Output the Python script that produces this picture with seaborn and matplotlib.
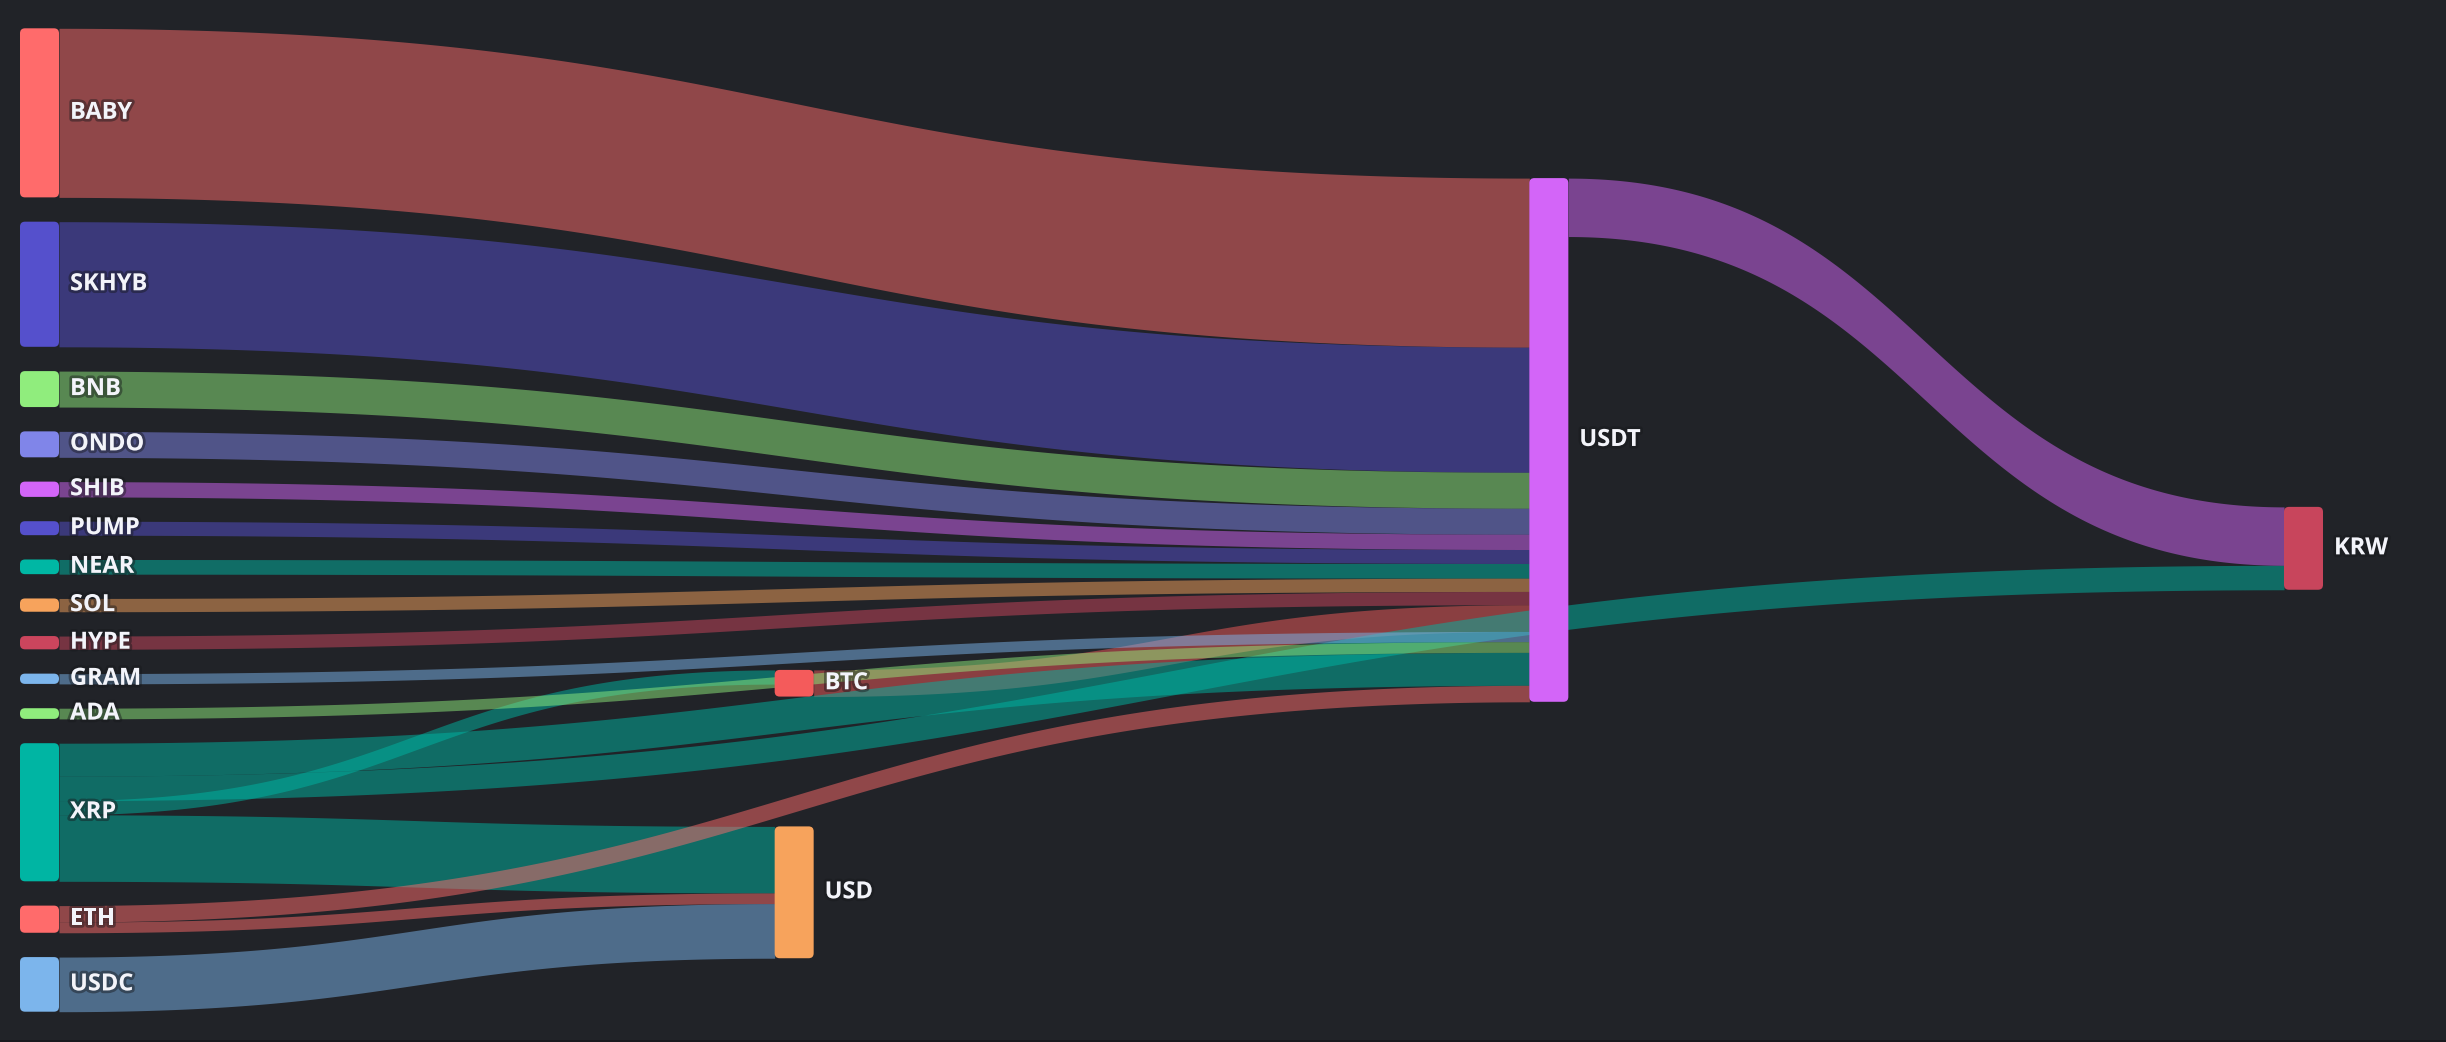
import numpy as np
import matplotlib
matplotlib.use("Agg")
import matplotlib.pyplot as plt
import matplotlib.patheffects as pe
from matplotlib.patches import FancyBboxPatch
import seaborn as sns

# ---------------- data ----------------
node_names = ["BABY", "SKHYB", "BNB", "ONDO", "SHIB", "PUMP", "NEAR", "SOL", "HYPE",
              "GRAM", "ADA", "XRP", "ETH", "USDC", "BTC", "USD", "USDT", "KRW"]
node_colors = ["#ff6b6b", "#5550cc", "#90ed7d", "#8085e9", "#d365f8", "#5550cc",
               "#00b7a4", "#f7a35c", "#cb455d", "#7cb5ec", "#90ed7d", "#00b5a3",
               "#ff6b6b", "#7cb5ec", "#f45b5b", "#f7a35c", "#d365f8", "#c8455c"]

link_source = ["BTC", "XRP", "XRP", "XRP", "XRP",
               "BABY", "SKHYB", "BNB", "ONDO", "SHIB", "PUMP", "NEAR", "SOL", "HYPE",
               "GRAM", "ADA", "ETH", "ETH", "USDC", "USDT"]
link_target = ["USDT", "USDT", "KRW", "BTC", "USD",
               "USDT", "USDT", "USDT", "USDT", "USDT", "USDT", "USDT", "USDT", "USDT",
               "USDT", "USDT", "USDT", "USD", "USD", "KRW"]
link_value = [26.7, 33.0, 24.5, 14.2, 66.6,
              169.3, 125.3, 36.0, 26.0, 15.3, 14.0, 14.7, 13.3, 13.3,
              10.3, 10.7, 16.5, 10.7, 54.7, 58.5]

# vertical centre of the nodes after the first column (share of plot height)
node_y = {"BTC": 0.666, "USD": 0.8786, "USDT": 0.4186, "KRW": 0.5288}

# ---------------- layout ----------------
W, H = 2446, 1042
BG = "#212328"
top, bottom = 28.3, 1011.7
left, right = 20, 2323
node_w = 39
gap = 24.3
plot_h = bottom - top

sns.set_theme(style="dark", rc={"axes.facecolor": BG, "figure.facecolor": BG})
plt.rcParams["font.family"] = ["Open Sans", "DejaVu Sans"]

color_of = dict(zip(node_names, node_colors))
inflow = {n: 0.0 for n in node_names}
outflow = {n: 0.0 for n in node_names}
for s, t, v in zip(link_source, link_target, link_value):
    outflow[s] += v
    inflow[t] += v
node_value = {n: max(inflow[n], outflow[n]) for n in node_names}

# column = longest path from a start node
depth = {n: 0 for n in node_names}
for _ in range(len(node_names)):
    for s, t in zip(link_source, link_target):
        depth[t] = max(depth[t], depth[s] + 1)
n_cols = max(depth.values()) + 1
columns = [[n for n in node_names if depth[n] == c] for c in range(n_cols)]

ky = min((plot_h - (len(col) - 1) * gap) / sum(node_value[n] for n in col)
         for col in columns)
kx = (right - left - node_w) / (n_cols - 1)

pos = {}
for c, col in enumerate(columns):
    x = left + c * kx
    y = top
    for n in col:
        h = node_value[n] * ky
        y0 = top + node_y[n] * plot_h - h / 2 if n in node_y else y
        pos[n] = (x, y0, h)
        y = y0 + h + gap

L = len(link_value)
widths = [v * ky for v in link_value]
sy = [0.0] * L
ty = [0.0] * L
for n in node_names:
    outs = sorted([i for i in range(L) if link_source[i] == n],
                  key=lambda i: pos[link_target[i]][1])
    acc = pos[n][1]
    for i in outs:
        sy[i] = acc
        acc += widths[i]
    ins = sorted([i for i in range(L) if link_target[i] == n],
                 key=lambda i: pos[link_source[i]][1])
    acc = pos[n][1]
    for i in ins:
        ty[i] = acc
        acc += widths[i]

# ---------------- drawing ----------------
fig = plt.figure(figsize=(W / 100, H / 100), dpi=100)
ax = fig.add_axes([0, 0, 1, 1])
ax.set_xlim(0, W)
ax.set_ylim(H, 0)
ax.axis("off")
ax.axhspan(1039.5, H, color="#19191e", lw=0)

t = np.linspace(0, 1, 300)
a0 = (1 - t) ** 3 + 3 * (1 - t) ** 2 * t
a1 = 3 * (1 - t) * t ** 2 + t ** 3
for i in range(L):
    s, tg = link_source[i], link_target[i]
    x1 = pos[s][0] + node_w
    x2 = pos[tg][0]
    xm = (x1 + x2) / 2
    bx = (1 - t) ** 3 * x1 + 3 * (1 - t) ** 2 * t * xm + 3 * (1 - t) * t ** 2 * xm + t ** 3 * x2
    by = a0 * sy[i] + a1 * ty[i]
    ax.fill_between(bx, by, by + widths[i], color=color_of[s], alpha=0.5, lw=0)

for n in node_names:
    x, y0, h = pos[n]
    r = min(5, h / 2)
    ax.add_patch(FancyBboxPatch((x, y0), node_w, h,
                                boxstyle=f"round,pad=0,rounding_size={r}",
                                fc=color_of[n], ec="none", zorder=3))
    ax.text(x + node_w + 11, y0 + h / 2, n, ha="left", va="center",
            fontsize=17, fontweight="bold", color="#f3f4fa", zorder=4,
            path_effects=[pe.withStroke(linewidth=4, foreground="#17181c", alpha=0.45)])

fig.savefig("out.png", dpi=100, facecolor=BG)
